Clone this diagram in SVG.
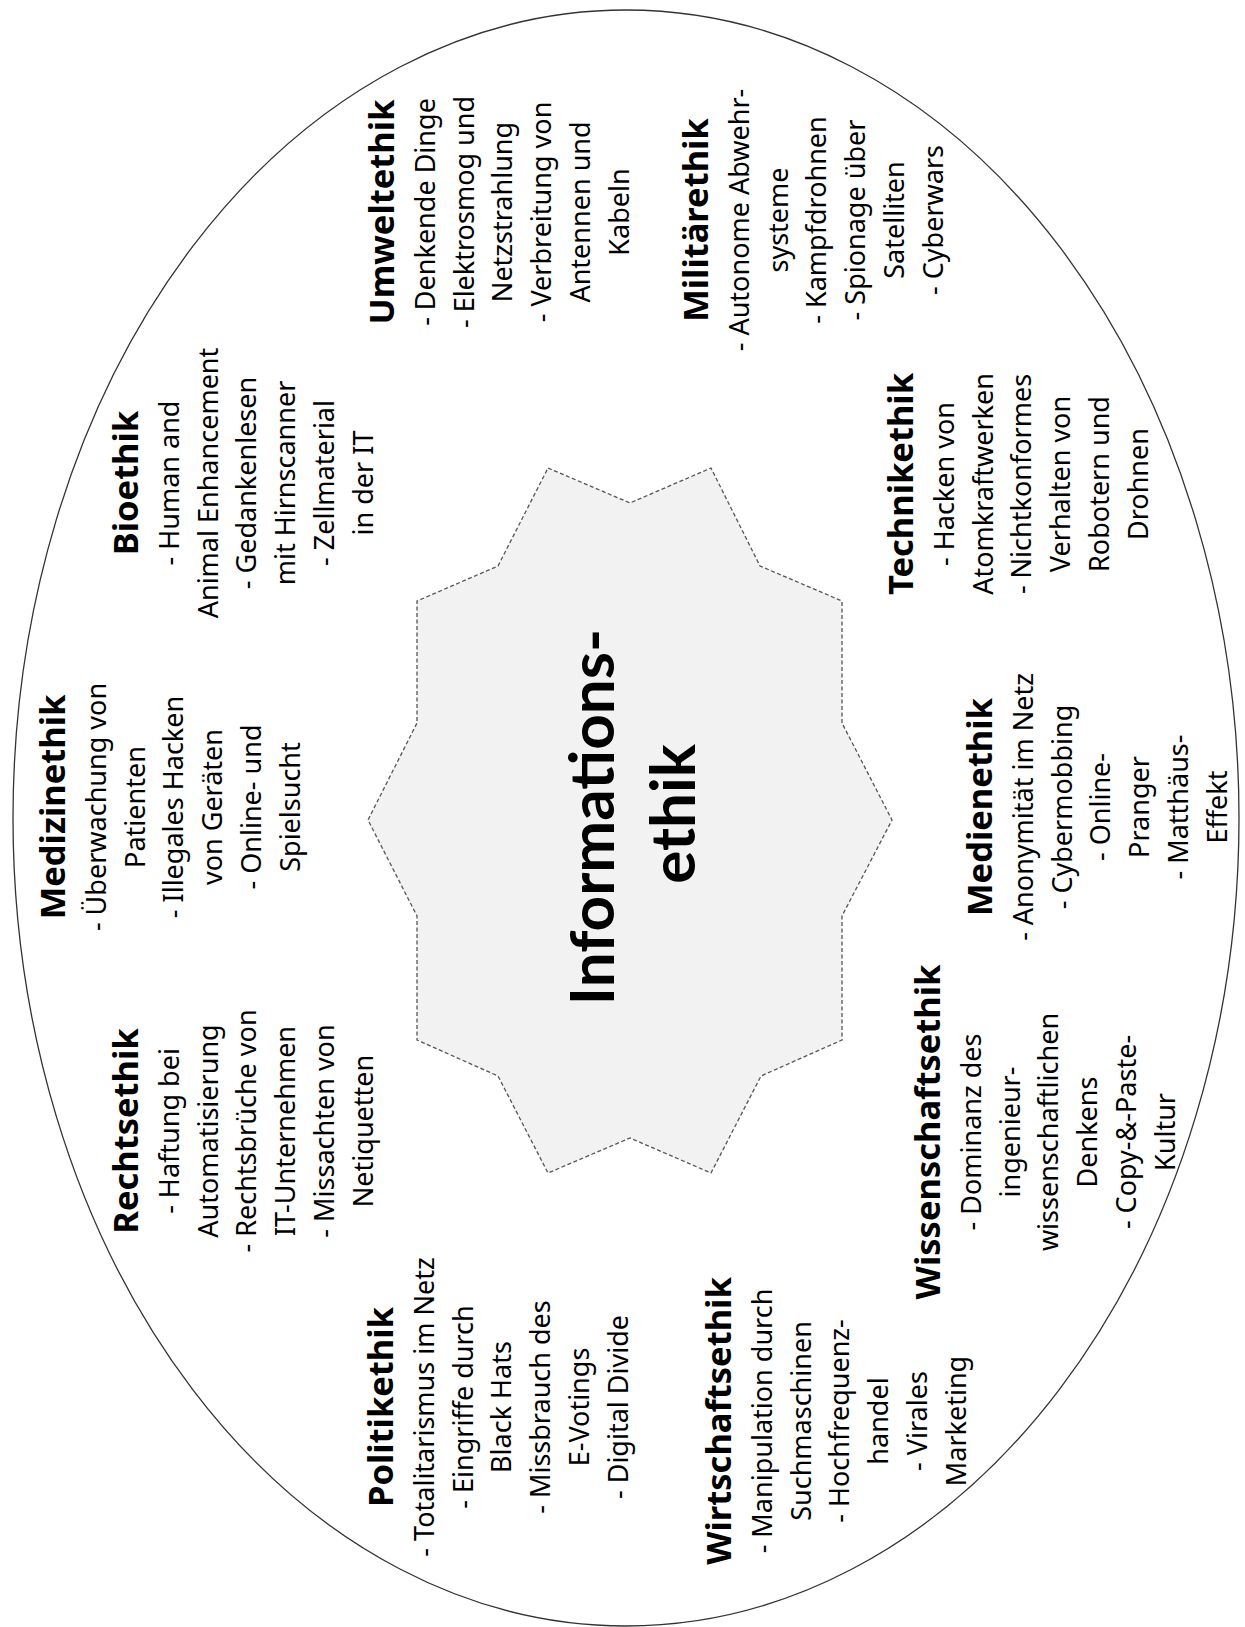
<svg xmlns="http://www.w3.org/2000/svg" width="1245" height="1627" viewBox="0 0 1245 1627">
<style>
.t{font-family:"Noto Sans","Open Sans","DejaVu Sans",sans-serif;font-size:34.5px;font-weight:bold;fill:#000;text-anchor:middle}
.b{font-family:"Noto Sans","Open Sans","DejaVu Sans",sans-serif;font-size:27px;fill:#000;text-anchor:middle}
.c{font-family:Lato,"Noto Sans",sans-serif;font-size:62px;font-weight:bold;fill:#000;text-anchor:middle}
.ell{fill:#fff;stroke:#333;stroke-width:1.3}
.star{fill:#f2f2f2;stroke:#555;stroke-width:1.3;stroke-dasharray:4 2.5}
</style>
<rect width="1245" height="1627" fill="#fff"/>
<g id="frame"><ellipse class="ell" cx="626" cy="818" rx="613" ry="808"/></g>
<g id="connectors"></g>
<g id="center">
<polygon class="star" points="548,468 630,503 711,468 760,566 842,601 842,723 892,820 842,916 842,1040 761,1076 711,1173 630,1138 548,1173 498,1076 417,1040 417,916 368,820 417,723 417,601 498,566"/>
<g transform="translate(614,817) rotate(-90)">
<text class="c" x="0" y="0">Informations-</text>
<text class="c" x="3" y="81">ethik</text>
</g>
</g>
<g id="umweltethik" transform="translate(394,212) rotate(-90)">
<text class="t" x="0" y="0">Umweltethik</text>
<text class="b" x="0" y="41">- Denkende Dinge</text>
<text class="b" x="0" y="79.7">- Elektrosmog und</text>
<text class="b" x="0" y="118.4">Netzstrahlung</text>
<text class="b" x="0" y="157.1">- Verbreitung von</text>
<text class="b" x="0" y="195.8">Antennen und</text>
<text class="b" x="0" y="234.5">Kabeln</text>
</g>
<g id="militaerethik" transform="translate(708,220) rotate(-90)">
<text class="t" x="0" y="0">Militärethik</text>
<text class="b" x="0" y="41">- Autonome Abwehr-</text>
<text class="b" x="0" y="79.7">systeme</text>
<text class="b" x="0" y="118.4">- Kampfdrohnen</text>
<text class="b" x="0" y="157.1">- Spionage über</text>
<text class="b" x="0" y="195.8">Satelliten</text>
<text class="b" x="0" y="234.5">- Cyberwars</text>
</g>
<g id="bioethik" transform="translate(138,483) rotate(-90)">
<text class="t" x="0" y="0">Bioethik</text>
<text class="b" x="0" y="41">- Human and</text>
<text class="b" x="0" y="79.7">Animal Enhancement</text>
<text class="b" x="0" y="118.4">- Gedankenlesen</text>
<text class="b" x="0" y="157.1">mit Hirnscanner</text>
<text class="b" x="0" y="195.8">- Zellmaterial</text>
<text class="b" x="0" y="234.5">in der IT</text>
</g>
<g id="technikethik" transform="translate(913,484) rotate(-90)">
<text class="t" x="0" y="0">Technikethik</text>
<text class="b" x="0" y="41">- Hacken von</text>
<text class="b" x="0" y="79.7">Atomkraftwerken</text>
<text class="b" x="0" y="118.4">- Nichtkonformes</text>
<text class="b" x="0" y="157.1">Verhalten von</text>
<text class="b" x="0" y="195.8">Robotern und</text>
<text class="b" x="0" y="234.5">Drohnen</text>
</g>
<g id="medizinethik" transform="translate(65,807) rotate(-90)">
<text class="t" x="0" y="0">Medizinethik</text>
<text class="b" x="0" y="41">- Überwachung von</text>
<text class="b" x="0" y="79.7">Patienten</text>
<text class="b" x="0" y="118.4">- Illegales Hacken</text>
<text class="b" x="0" y="157.1">von Geräten</text>
<text class="b" x="0" y="195.8">- Online- und</text>
<text class="b" x="0" y="234.5">Spielsucht</text>
</g>
<g id="medienethik" transform="translate(992,807) rotate(-90)">
<text class="t" x="0" y="0">Medienethik</text>
<text class="b" x="0" y="41">- Anonymität im Netz</text>
<text class="b" x="0" y="79.7">- Cybermobbing</text>
<text class="b" x="0" y="118.4">- Online-</text>
<text class="b" x="0" y="157.1">Pranger</text>
<text class="b" x="0" y="195.8">- Matthäus-</text>
<text class="b" x="0" y="234.5">Effekt</text>
</g>
<g id="rechtsethik" transform="translate(138,1131) rotate(-90)">
<text class="t" x="0" y="0">Rechtsethik</text>
<text class="b" x="0" y="41">- Haftung bei</text>
<text class="b" x="0" y="79.7">Automatisierung</text>
<text class="b" x="0" y="118.4">- Rechtsbrüche von</text>
<text class="b" x="0" y="157.1">IT-Unternehmen</text>
<text class="b" x="0" y="195.8">- Missachten von</text>
<text class="b" x="0" y="234.5">Netiquetten</text>
</g>
<g id="wissenschaftsethik" transform="translate(940,1132) rotate(-90)">
<text class="t" x="0" y="0">Wissenschaftsethik</text>
<text class="b" x="0" y="41">- Dominanz des</text>
<text class="b" x="0" y="79.7">ingenieur-</text>
<text class="b" x="0" y="118.4">wissenschaftlichen</text>
<text class="b" x="0" y="157.1">Denkens</text>
<text class="b" x="0" y="195.8">- Copy-&amp;-Paste-</text>
<text class="b" x="0" y="234.5">Kultur</text>
</g>
<g id="politikethik" transform="translate(393,1407) rotate(-90)">
<text class="t" x="0" y="0">Politikethik</text>
<text class="b" x="0" y="41">- Totalitarismus im Netz</text>
<text class="b" x="0" y="79.7">- Eingriffe durch</text>
<text class="b" x="0" y="118.4">Black Hats</text>
<text class="b" x="0" y="157.1">- Missbrauch des</text>
<text class="b" x="0" y="195.8">E-Votings</text>
<text class="b" x="0" y="234.5">- Digital Divide</text>
</g>
<g id="wirtschaftsethik" transform="translate(731,1421) rotate(-90)">
<text class="t" x="0" y="0">Wirtschaftsethik</text>
<text class="b" x="0" y="41">- Manipulation durch</text>
<text class="b" x="0" y="79.7">Suchmaschinen</text>
<text class="b" x="0" y="118.4">- Hochfrequenz-</text>
<text class="b" x="0" y="157.1">handel</text>
<text class="b" x="0" y="195.8">- Virales</text>
<text class="b" x="0" y="234.5">Marketing</text>
</g>
</svg>
